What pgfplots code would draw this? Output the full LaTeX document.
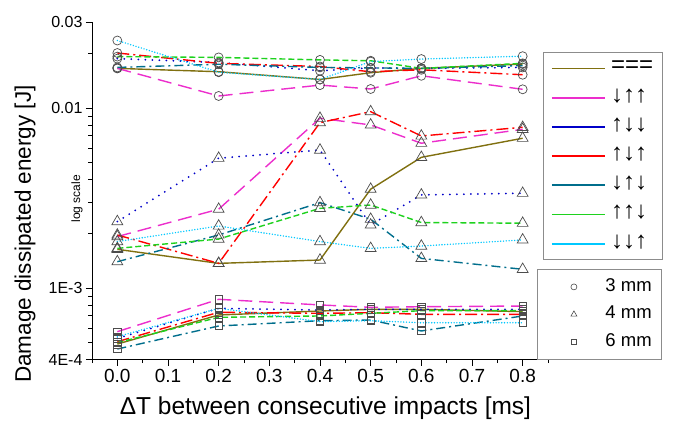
\documentclass[border=0pt]{standalone}
\usepackage{fontspec}
\setmainfont{Liberation Sans}
\usepackage{pgfplots}
\usepackage{pgfplotstable}
\pgfplotsset{compat=1.18}
\definecolor{cOl}{RGB}{128,112,16}
\definecolor{cMg}{RGB}{236,46,204}
\definecolor{cBl}{RGB}{0,0,200}
\definecolor{cRd}{RGB}{255,0,0}
\definecolor{cTl}{RGB}{0,110,140}
\definecolor{cGr}{RGB}{30,210,30}
\definecolor{cCy}{RGB}{0,200,255}
\pgfplotsset{
 sol/.style={color=cOl, solid, line width=1.4pt},
 smg/.style={color=cMg, dash pattern=on 14pt off 7pt, line width=1.4pt},
 sbl/.style={color=cBl, line cap=round, dash pattern=on 0pt off 7pt, line width=2pt},
 srd/.style={color=cRd, dash pattern=on 12pt off 4pt on 2pt off 4pt, line width=1.4pt},
 stl/.style={color=cTl, dash pattern=on 9pt off 4pt on 2pt off 4pt, line width=1.4pt},
 sgr/.style={color=cGr, dash pattern=on 6pt off 3pt, line width=1.4pt},
 scy/.style={color=cCy, line cap=round, dash pattern=on 0pt off 2.8pt, line width=1.6pt},
 mk/.style={only marks, mark options={draw=black!70, fill=white, line width=0.7pt, solid}},
 lg/.style={draw=#1, solid, line width=1.8pt},
}
\pgfplotstableread{
x ol mg bl rd tl gr cy
0.0 0.0166 0.0166 0.0188 0.0202 0.0168 0.0193 0.0237
0.2 0.0159 0.01166 0.0179 0.0177 0.0175 0.0191 0.0158
0.4 0.0144 0.0134 0.0161 0.0170 0.0168 0.0185 0.0144
0.5 0.0157 0.01275 0.0167 0.0159 0.0167 0.0183 0.0181
0.6 0.0166 0.0151 0.0166 0.0163 0.0166 0.0166 0.0187
0.8 0.01755 0.0127 0.0168 0.0153 0.0172 0.0177 0.0194
}\tA
\pgfplotstableread{
x ol mg bl rd tl gr cy
0.0 0.00164 0.00193 0.00234 0.00197 0.00140 0.00166 0.00181
0.2 0.00137 0.00274 0.00526 0.00137 0.00197 0.00187 0.00221
0.4 0.00143 0.00877 0.00584 0.00829 0.00298 0.00277 0.00181
0.5 0.00354 0.00805 0.00224 0.00954 0.00241 0.00289 0.00166
0.6 0.00532 0.00637 0.00329 0.00699 0.00146 0.00231 0.00171
0.8 0.00679 0.00761 0.00336 0.00781 0.00127 0.00229 0.00185
}\tB
\pgfplotstableread{
x ol mg bl rd tl gr cy
0.0 0.000488 0.000572 0.000525 0.000503 0.000458 0.000497 0.000536
0.2 0.000708 0.000865 0.000771 0.000733 0.000615 0.000687 0.000771
0.4 0.000745 0.000805 0.000754 0.000723 0.000658 0.000699 0.000650
0.5 0.000761 0.000781 0.000761 0.000729 0.000664 0.000723 0.000658
0.6 0.000761 0.000787 0.000761 0.000714 0.000577 0.000748 0.000641
0.8 0.000739 0.000794 0.000761 0.000714 0.000699 0.000748 0.000641
}\tC
\begin{document}
\begin{tikzpicture}
\path[use as bounding box] (0pt,0pt) rectangle (676pt,438pt);
\begin{axis}[
  scale only axis, width=456pt, height=337.5pt,
  at={(92pt,78.4pt)}, anchor=south west,
  xmin=-0.05, xmax=0.85,
  ymode=log, ymin=4e-4, ymax=0.03,
  axis x line*=bottom, axis y line*=left,
  axis line style={-, line width=0.9pt, black},
  tick align=outside,
  major tick length=6pt, minor tick length=3.5pt,
  every tick/.style={black, line width=0.8pt},
  xtick={0,0.1,0.2,0.3,0.4,0.5,0.6,0.7,0.8},
  xticklabels={0.0,0.1,0.2,0.3,0.4,0.5,0.6,0.7,0.8},
  minor xtick={-0.05,0.05,0.15,0.25,0.35,0.45,0.55,0.65,0.75,0.85},
  ytick={4e-4,1e-3,0.01,0.03},
  yticklabels={\mbox{4E-4},\mbox{1E-3},\mbox{0.01},\mbox{0.03}},
  minor ytick={5e-4,6e-4,7e-4,8e-4,9e-4,2e-3,3e-3,4e-3,5e-3,6e-3,7e-3,8e-3,9e-3,2e-2},
  xticklabel style={font=\fontsize{19}{21}\selectfont},
  yticklabel style={font=\fontsize{16}{19}\selectfont},
  xlabel={ΔT between consecutive impacts [ms]},
  ylabel={Damage dissipated energy [J]},
  xlabel style={font=\fontsize{24.5}{27}\selectfont, at={(axis description cs:0.512,-0.1434)}, anchor=center},
  ylabel style={font=\fontsize{22.5}{25}\selectfont, at={(axis description cs:-0.147,0.372)}, anchor=center},
  clip=false,
  legend style={at={(axis description cs:0.989,0.9114)}, anchor=north west,
    draw=black!45, line width=0.8pt, font=\fontsize{24}{26}\selectfont,
    inner xsep=7.5pt, inner ysep=5pt, row sep=7.2pt,
    nodes={inner sep=1.5pt, text height=14pt, text depth=5pt},
    /tikz/every odd column/.append style={column sep=4pt},
    legend cell align=left},
  legend image code/.code={\draw[#1] (0pt,0pt) -- (53pt,0pt);},
]
\pgfplotsinvokeforeach{ol,mg,bl,rd,tl,gr,cy}{
  \addplot[s#1, forget plot] table[x=x,y=#1]{\tA};
  \addplot[s#1, forget plot] table[x=x,y=#1]{\tB};
  \addplot[s#1, forget plot] table[x=x,y=#1]{\tC};
}
\pgfplotsinvokeforeach{ol,mg,bl,rd,tl,gr,cy}{
  \addplot[mk, mark=o, mark size=4.5pt, forget plot] table[x=x,y=#1]{\tA};
  \addplot[mk, mark=triangle, mark size=6.3pt, forget plot] table[x=x,y=#1]{\tB};
  \addplot[mk, mark=square, mark size=3.8pt, forget plot] table[x=x,y=#1]{\tC};
}
\addlegendimage{lg=cOl}\addlegendentry{===}
\addlegendimage{lg=cMg}\addlegendentry{↓↑↑}
\addlegendimage{lg=cBl}\addlegendentry{↑↓↓}
\addlegendimage{lg=cRd}\addlegendentry{↑↓↑}
\addlegendimage{lg=cTl}\addlegendentry{↓↑↓}
\addlegendimage{lg=cGr}\addlegendentry{↑↑↓}
\addlegendimage{lg=cCy}\addlegendentry{↓↓↑}
\node[rotate=90, font=\fontsize{12}{14}\selectfont] at (axis description cs:-0.033,0.476) {log scale};
\end{axis}
\begin{axis}[
  scale only axis, width=456pt, height=337.5pt,
  at={(92pt,78.4pt)}, anchor=south west,
  hide axis, xmin=0, xmax=1, ymin=0, ymax=1,
  legend style={at={(axis description cs:0.9759,0.2684)}, anchor=north west,
    draw=black!45, line width=0.8pt, font=\fontsize{18.5}{21}\selectfont,
    inner xsep=8pt, inner ysep=6.5pt, row sep=5.5pt,
    nodes={inner sep=1.5pt, text height=14pt, text depth=5pt},
    legend cell align=left},
  legend image code/.code={\draw[#1] plot coordinates {(28.5pt,0pt)}; \path[draw=none] (0pt,0pt) -- (58.5pt,0pt);},
]
\addlegendimage{only marks, mark=o, mark size=3pt, mark options={draw=black!70, line width=0.6pt}}
\addlegendentry{3 mm}
\addlegendimage{only marks, mark=triangle, mark size=3.5pt, mark options={draw=black!70, line width=0.6pt}}
\addlegendentry{4 mm}
\addlegendimage{only marks, mark=square, mark size=2.6pt, mark options={draw=black!70, line width=0.6pt}}
\addlegendentry{6 mm}
\end{axis}
\end{tikzpicture}
\end{document}
